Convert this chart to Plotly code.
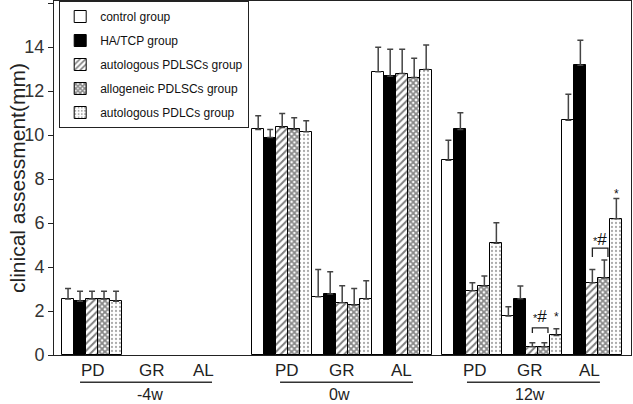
import plotly.graph_objects as go

# ---------------- data ----------------
timepoints = ["-4w", "0w", "12w"]
measures = ["PD", "GR", "AL"]

series_names = [
    "control group",
    "HA/TCP group",
    "autologous PDLSCs group",
    "allogeneic PDLSCs group",
    "autologous PDLCs group",
]

# order: -4w PD, GR, AL | 0w PD, GR, AL | 12w PD, GR, AL   (None = not measured)
control_vals   = [2.55, None, None, 10.26, 2.65, 12.88, 8.86, 1.77, 10.68]
control_err    = [0.48, None, None, 0.62, 1.24, 1.12, 0.91, 0.43, 1.18]
hatcp_vals     = [2.45, None, None, 9.89, 2.77, 12.68, 10.26, 2.56, 13.18]
hatcp_err      = [0.45, None, None, 0.37, 1.02, 1.22, 0.76, 0.58, 1.14]
auto_pdlsc_vals = [2.55, None, None, 10.35, 2.38, 12.80, 2.92, 0.38, 3.29]
auto_pdlsc_err  = [0.35, None, None, 0.63, 0.77, 1.10, 0.37, 0.18, 0.60]
allo_pdlsc_vals = [2.55, None, None, 10.26, 2.27, 12.62, 3.14, 0.38, 3.50]
allo_pdlsc_err  = [0.35, None, None, 0.53, 0.76, 0.88, 0.45, 0.18, 0.82]
auto_pdlc_vals  = [2.45, None, None, 10.15, 2.55, 12.98, 5.08, 0.89, 6.20]
auto_pdlc_err   = [0.45, None, None, 0.50, 0.83, 1.12, 0.94, 0.30, 0.92]

y_ticks = [0, 2, 4, 6, 8, 10, 12, 14, 16]

all_vals = [control_vals, hatcp_vals, auto_pdlsc_vals, allo_pdlsc_vals, auto_pdlc_vals]
all_errs = [control_err, hatcp_err, auto_pdlsc_err, allo_pdlsc_err, auto_pdlc_err]

# ---------------- layout helpers ----------------
TP_STEP = 15.85   # spacing between timepoint blocks (in bar widths)
N_SER = 5

def bar_x(cat_index, s):
    t, g = divmod(cat_index, 3)
    return t * TP_STEP + g * N_SER + s

styles = [
    dict(color="white"),
    dict(color="black"),
    dict(color="white", pattern=dict(shape="/", fgcolor="black", bgcolor="white", size=5, solidity=0.4)),
    dict(color="white", pattern=dict(shape="x", fgcolor="#111", bgcolor="white", size=4, solidity=0.7)),
    dict(color="white", pattern=dict(shape=".", fgcolor="#555", bgcolor="white", size=4, solidity=0.25)),
]

fig = go.Figure()
for s, (name, vals, errs) in enumerate(zip(series_names, all_vals, all_errs)):
    xs = [bar_x(i, s) for i in range(len(vals))]
    marker = dict(line=dict(color="black", width=1), **styles[s])
    fig.add_trace(go.Bar(
        x=xs, y=vals, name=name, width=1, marker=marker,
        legendgroup=name,
        error_y=dict(type="data", array=[e if e is not None else 0 for e in errs],
                     arrayminus=[0] * len(errs), symmetric=False,
                     color="#444", thickness=1.5, width=3),
    ))

# ---------------- category labels below axis ----------------
FONT = "Liberation Sans, Arial, sans-serif"
annotations = []
shapes = []
label_rel = {"-4w": [2.08, 7.0, 11.25], "0w": [2.4, 6.98, 11.98], "12w": [2.2, 6.8, 11.8]}
line_rel = {"-4w": (1.0, 12.0), "0w": (1.82, 12.9), "12w": (1.55, 12.63)}
for t, tp in enumerate(timepoints):
    base = t * TP_STEP
    for g, m in enumerate(measures):
        annotations.append(dict(x=base + label_rel[tp][g], y=0, xref="x", yref="paper",
                                yanchor="middle", yshift=-15, text=m, showarrow=False,
                                font=dict(size=17, color="#222", family=FONT)))
    x0, x1 = line_rel[tp]
    shapes.append(dict(type="line", xref="x", yref="paper", x0=base + x0, x1=base + x1,
                       y0=-0.077, y1=-0.077, line=dict(color="#333", width=1.3)))
    annotations.append(dict(x=base + 6.8, y=0, xref="x", yref="paper",
                            yanchor="middle", yshift=-39,
                            text=tp, showarrow=False,
                            font=dict(size=16, color="#222", family=FONT)))

# ---------------- significance marks (12w) ----------------
def add_bracket(cat_index, top, drop, text_y, extra=0.3):
    xa = bar_x(cat_index, 2)
    xb = bar_x(cat_index, 3) + extra
    shapes.append(dict(type="path", xref="x", yref="y",
                       path=f"M {xa},{top-drop} L {xa},{top} L {xb},{top} L {xb},{top-drop}",
                       line=dict(color="#222", width=1.3)))
    annotations.append(dict(x=(xa + xb) / 2, y=text_y, xref="x", yref="y",
                            text="<span style='font-size:11px'>*</span>#", showarrow=False,
                            font=dict(size=17, color="#111", family=FONT)))

def add_star(cat_index, s, y):
    annotations.append(dict(x=bar_x(cat_index, s), y=y, xref="x", yref="y", text="*",
                            showarrow=False, font=dict(size=12, color="#111", family=FONT)))

gr12 = 7
al12 = 8
add_bracket(gr12, auto_pdlsc_vals[gr12] + auto_pdlsc_err[gr12] + 0.67, 0.23, 1.73)
add_star(gr12, 4, 1.72)
add_bracket(al12, allo_pdlsc_vals[al12] + allo_pdlsc_err[al12] + 0.54, 0.4, 5.25)
add_star(al12, 4, 7.3)

# y-axis title
annotations.append(dict(x=0, y=0.5, xref="paper", yref="paper", xshift=-37,
                        xanchor="center", yanchor="middle",
                        text="clinical assessment(mm)", textangle=-90, showarrow=False,
                        font=dict(size=21, color="#222", family=FONT)))

fig.update_layout(
    width=633, height=404,
    margin=dict(l=54, r=2, t=1, b=49),
    plot_bgcolor="white", paper_bgcolor="white",
    barmode="overlay", bargap=0,
    font=dict(family=FONT, color="#222"),
    showlegend=True,
    legend=dict(x=0.009, y=1.0, xanchor="left", yanchor="top",
                bgcolor="white", bordercolor="#222", borderwidth=1,
                font=dict(size=12, color="#111", family=FONT),
                traceorder="grouped", tracegroupgap=5, itemwidth=30),
    xaxis=dict(range=[-1.17, 46.92], showticklabels=False, ticks="",
               showgrid=False, zeroline=False, showline=True, linecolor="#222",
               linewidth=1, mirror=True, fixedrange=True),
    yaxis=dict(range=[0, 16.1], tickvals=y_ticks, ticks="outside", ticklen=5,
               tickcolor="#222", showgrid=False, zeroline=False, showline=True,
               linecolor="#222", linewidth=1, mirror=True,
               tickfont=dict(size=18, color="#333", family=FONT)),
    annotations=annotations,
    shapes=shapes,
)

fig.write_html("out.html", config={"displayModeBar": False},
               post_script="document.body.style.margin='0';")
